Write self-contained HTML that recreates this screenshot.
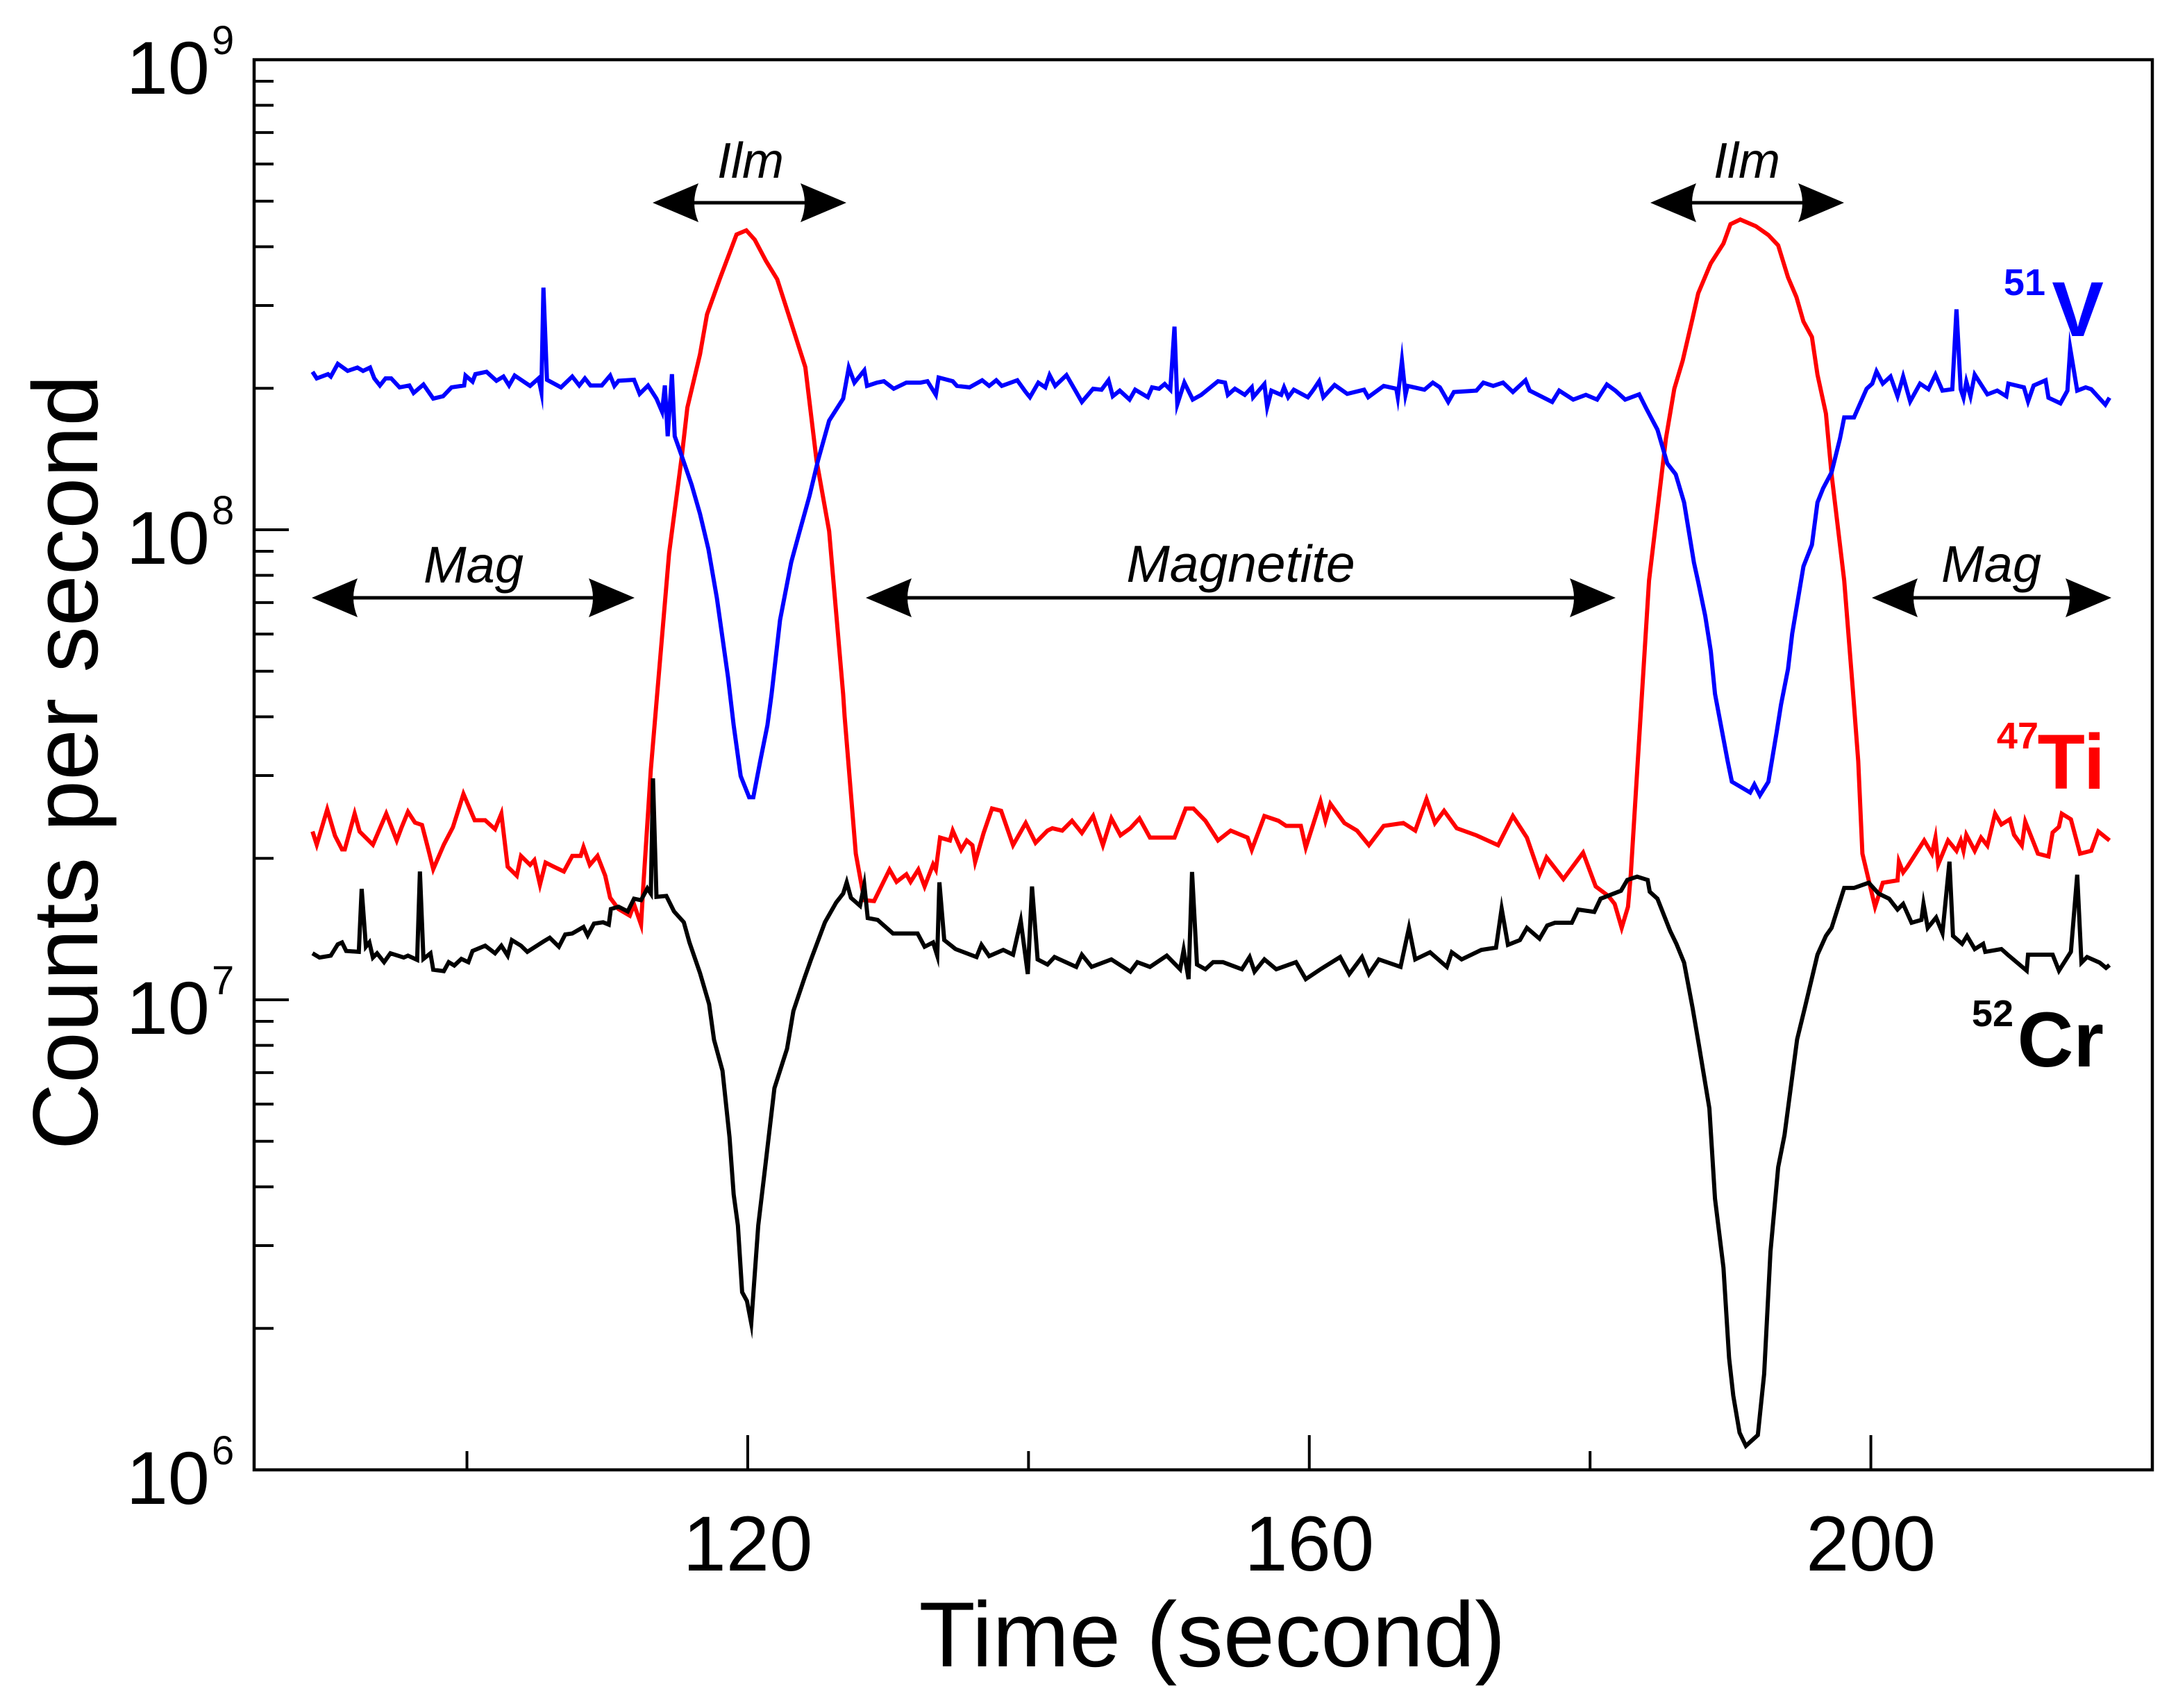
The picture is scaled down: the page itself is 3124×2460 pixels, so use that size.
<!DOCTYPE html>
<html lang="en">
<head>
<meta charset="utf-8">
<title>Counts per second versus time</title>
<style>
html,body{margin:0;padding:0;background:#fff;}
svg{display:block;}
text{font-family:"Liberation Sans",Arial,sans-serif;fill:#000;}
</style>
</head>
<body>
<svg id="chart" width="3124" height="2460" viewBox="0 0 3124 2460" xmlns="http://www.w3.org/2000/svg">
  <rect x="0" y="0" width="3124" height="2460" fill="#fff"/>
  <g id="series"></g>
  <g id="axes"></g>
  <rect x="366" y="86" width="2734" height="2031" fill="none" stroke="#000" stroke-width="4.5"/>

  <text x="1746" y="2400" font-size="133" text-anchor="middle">Time (second)</text>
  <text transform="translate(140 1098) rotate(-90)" font-size="133" text-anchor="middle">Counts per second</text>

  <g id="annotations"></g>

  <text x="2946" y="425" font-size="54" font-weight="700" text-anchor="end" style="fill:#0000ff">51</text>
  <text x="3030" y="484" font-size="112" font-weight="700" text-anchor="end" style="fill:#0000ff">V</text>
  <text x="2936" y="1078" font-size="54" font-weight="700" text-anchor="end" style="fill:#ff0000">47</text>
  <text x="3032" y="1136" font-size="112" font-weight="700" text-anchor="end" style="fill:#ff0000">Ti</text>
  <text x="2900" y="1478" font-size="54" font-weight="700" text-anchor="end">52</text>
  <text x="3030" y="1536" font-size="112" font-weight="700" text-anchor="end">Cr</text>
</svg>
<script>
// Values. Times are seconds, signals are log10(counts per second).
const xMajorTicks = [120, 160, 200];
const xMinorTicks = [100, 140, 180];
const yDecades = [9, 8, 7, 6];
const yMinorMultipliers = [2, 3, 4, 5, 6, 7, 8, 9];

const v51Times = [89.0,89.3,90.1,90.3,90.8,91.5,92.2,92.6,93.1,93.4,93.8,94.2,94.6,95.2,95.9,96.2,96.9,97.6,98.3,98.9,99.8,99.9,100.4,100.6,101.4,102.1,102.6,103.0,103.4,104.5,105.1,105.3,105.45,105.7,106.7,107.5,108.0,108.4,108.8,109.6,110.2,110.5,110.8,111.9,112.3,112.9,113.5,113.9,114.1,114.3,114.6,114.8,115.3,116.0,116.6,117.2,117.8,118.6,119.0,119.5,120.1,120.4,120.9,121.4,121.7,122.3,123.1,123.7,124.4,125.0,125.8,126.8,127.2,127.6,128.3,128.5,129.2,129.7,130.4,131.3,132.3,132.8,133.4,133.6,134.6,134.9,135.8,136.7,137.2,137.7,138.1,139.2,139.8,140.1,140.7,141.2,141.5,141.9,142.7,143.3,143.8,144.6,145.2,145.7,146.0,146.5,147.2,147.6,148.5,148.8,149.3,149.7,150.1,150.4,150.6,151.1,151.7,152.3,153.5,154.0,154.2,154.7,155.4,155.9,156.0,156.8,157.0,157.3,158.0,158.2,158.5,158.9,159.9,160.3,160.7,161.0,161.8,162.7,163.9,164.2,165.3,166.2,166.3,166.6,166.85,167.0,168.2,168.8,169.3,169.9,170.3,171.9,172.4,173.1,173.8,174.5,175.4,175.7,177.3,177.8,178.8,179.7,180.5,181.2,181.8,182.5,183.5,184.0,184.8,185.5,186.1,186.7,187.4,187.7,188.2,188.6,188.9,189.8,190.1,191.4,191.7,192.1,192.7,193.3,193.6,194.1,194.4,195.2,195.8,196.2,196.6,197.2,197.8,198.1,198.8,199.7,200.1,200.4,200.85,201.4,201.9,202.3,202.8,203.5,204.1,204.6,205.1,205.8,206.1,206.4,206.6,206.8,207.1,207.4,208.3,209.0,209.65,209.8,210.9,211.2,211.6,212.45,212.65,213.5,214.0,214.2,214.7,215.3,215.7,216.7,217.0];
const v51LogCounts = [8.336,8.322,8.331,8.326,8.353,8.338,8.345,8.338,8.345,8.322,8.307,8.322,8.322,8.303,8.307,8.291,8.309,8.279,8.284,8.303,8.307,8.328,8.315,8.331,8.336,8.317,8.326,8.307,8.328,8.306,8.322,8.293,8.515,8.319,8.303,8.326,8.307,8.322,8.307,8.307,8.328,8.306,8.317,8.319,8.289,8.307,8.279,8.251,8.307,8.199,8.331,8.199,8.157,8.096,8.034,7.959,7.855,7.686,7.584,7.476,7.431,7.431,7.509,7.584,7.650,7.808,7.931,7.997,8.072,8.147,8.232,8.279,8.345,8.313,8.339,8.306,8.313,8.316,8.300,8.313,8.313,8.316,8.287,8.324,8.316,8.306,8.303,8.318,8.306,8.318,8.306,8.318,8.293,8.282,8.313,8.303,8.329,8.306,8.329,8.298,8.272,8.300,8.298,8.318,8.284,8.296,8.277,8.298,8.282,8.303,8.300,8.310,8.298,8.432,8.267,8.313,8.277,8.287,8.316,8.313,8.287,8.300,8.287,8.303,8.282,8.310,8.261,8.296,8.287,8.303,8.282,8.298,8.282,8.298,8.316,8.282,8.308,8.289,8.298,8.282,8.306,8.300,8.282,8.360,8.287,8.306,8.298,8.313,8.303,8.272,8.293,8.296,8.313,8.306,8.313,8.293,8.318,8.296,8.272,8.296,8.277,8.287,8.277,8.309,8.296,8.277,8.288,8.258,8.213,8.141,8.118,8.058,7.930,7.889,7.817,7.741,7.651,7.508,7.464,7.441,7.458,7.435,7.464,7.571,7.628,7.704,7.779,7.922,7.968,8.058,8.088,8.122,8.194,8.239,8.239,8.300,8.311,8.337,8.311,8.326,8.284,8.326,8.273,8.311,8.299,8.330,8.296,8.299,8.469,8.299,8.281,8.315,8.284,8.330,8.288,8.296,8.284,8.311,8.303,8.273,8.307,8.318,8.281,8.269,8.296,8.386,8.296,8.303,8.299,8.266,8.281];

const ti47Times = [89.0,89.3,90.05,90.6,91.1,91.3,92.0,92.35,93.3,94.25,95.0,95.35,95.8,96.3,96.8,97.25,97.6,98.35,99.0,99.75,100.55,101.3,102.0,102.45,102.9,103.55,103.85,104.5,104.8,105.2,105.6,106.2,106.9,107.5,108.1,108.3,108.75,109.3,109.85,110.2,110.8,111.6,111.9,112.4,112.55,113.1,113.55,114.4,115.3,115.7,116.6,117.1,118.0,119.2,119.9,120.5,121.3,122.1,123.1,124.1,124.9,125.8,126.8,126.9,127.7,128.3,129.0,130.1,130.6,131.3,131.6,132.15,132.6,133.2,133.4,133.7,134.4,134.6,135.2,135.6,136.0,136.2,136.8,137.4,138.05,138.9,139.8,140.5,141.35,141.7,142.4,143.1,143.8,144.6,145.3,145.9,146.55,147.25,147.9,148.65,150.4,151.2,151.75,152.6,153.5,154.4,155.6,155.9,156.8,157.8,158.35,159.4,159.75,160.8,161.15,161.5,162.5,163.4,164.25,165.3,166.7,167.55,168.35,168.95,169.6,170.5,171.9,173.45,174.5,175.5,176.4,176.9,178.1,179.5,180.4,181.3,181.75,182.25,182.7,182.9,183.4,184.2,185.4,186.0,186.6,187.3,187.7,188.6,189.5,190.0,190.7,191.8,192.7,193.4,194.1,194.7,195.2,195.8,196.2,196.8,197.2,198.1,198.7,199.1,199.4,200.3,200.85,201.9,202.0,202.3,202.6,203.8,204.35,204.6,204.8,205.5,206.1,206.4,206.6,206.8,207.4,207.85,208.3,208.85,209.3,209.9,210.2,210.75,211.0,211.6,211.9,212.65,212.95,213.4,213.6,214.25,214.9,215.7,216.2,217.0];
const ti47LogCounts = [7.358,7.330,7.405,7.349,7.320,7.320,7.396,7.358,7.330,7.396,7.339,7.367,7.400,7.377,7.372,7.320,7.278,7.330,7.367,7.438,7.382,7.382,7.363,7.396,7.283,7.264,7.306,7.287,7.297,7.245,7.292,7.283,7.273,7.306,7.306,7.325,7.287,7.306,7.264,7.217,7.193,7.179,7.203,7.160,7.236,7.490,7.650,7.950,8.155,8.260,8.373,8.458,8.533,8.628,8.637,8.617,8.572,8.533,8.440,8.346,8.148,7.997,7.650,7.603,7.311,7.212,7.210,7.277,7.251,7.267,7.251,7.277,7.241,7.288,7.277,7.345,7.339,7.360,7.319,7.339,7.329,7.293,7.355,7.407,7.402,7.329,7.376,7.334,7.360,7.365,7.360,7.381,7.355,7.391,7.329,7.386,7.350,7.365,7.386,7.345,7.345,7.407,7.407,7.381,7.339,7.360,7.345,7.319,7.391,7.381,7.370,7.370,7.324,7.422,7.381,7.417,7.376,7.360,7.329,7.370,7.376,7.360,7.427,7.376,7.402,7.365,7.350,7.329,7.391,7.345,7.267,7.303,7.257,7.313,7.241,7.221,7.204,7.153,7.198,7.266,7.508,7.892,8.194,8.300,8.360,8.450,8.503,8.567,8.609,8.650,8.660,8.646,8.627,8.605,8.537,8.495,8.443,8.410,8.330,8.247,8.118,7.892,7.666,7.508,7.311,7.198,7.249,7.254,7.294,7.271,7.283,7.339,7.311,7.345,7.288,7.339,7.317,7.339,7.317,7.351,7.317,7.345,7.328,7.396,7.373,7.384,7.351,7.328,7.379,7.334,7.311,7.305,7.356,7.368,7.396,7.384,7.311,7.317,7.358,7.339];

const cr52Times = [89.0,89.5,90.3,90.8,91.1,91.4,92.3,92.5,92.8,93.05,93.3,93.6,94.1,94.55,95.5,95.8,96.45,96.65,96.9,97.4,97.6,98.35,98.7,99.1,99.6,100.1,100.4,101.3,102.0,102.45,102.9,103.2,103.85,104.3,105.45,105.9,106.55,107.0,107.5,108.3,108.6,109.05,109.7,110.1,110.25,110.8,111.45,111.9,112.4,112.85,113.1,113.25,113.5,114.2,114.75,115.45,115.85,116.6,117.25,117.6,118.2,118.7,119.0,119.3,119.6,119.95,120.25,120.75,121.2,121.9,122.8,123.25,124.05,124.5,125.5,126.3,126.8,127.05,127.35,128.0,128.3,128.55,129.25,130.35,132.1,132.6,133.2,133.5,133.65,134.0,134.8,136.3,136.65,137.2,138.2,138.9,139.45,139.95,140.25,140.65,141.35,141.85,143.4,143.8,144.5,145.9,147.25,147.75,148.65,149.85,150.8,151.05,151.4,151.65,152.0,152.6,153.15,153.85,155.2,155.75,156.1,156.8,157.65,159.05,159.75,160.8,162.2,162.85,163.75,164.25,164.95,166.5,167.1,167.55,168.6,169.8,170.15,170.85,172.25,173.3,173.7,174.15,175.0,175.5,176.4,176.95,177.5,178.7,179.15,180.3,180.75,182.2,182.65,183.35,184.1,184.25,184.8,185.7,186.15,186.7,187.3,187.75,188.5,188.9,189.5,189.9,190.2,190.65,191.1,191.95,192.4,192.85,193.4,193.85,194.75,195.3,196.2,196.8,197.2,198.1,198.8,199.85,200.55,201.3,201.9,202.3,202.9,203.6,203.75,204.05,204.65,205.1,205.6,205.85,206.5,206.85,207.4,208.0,208.15,209.3,209.75,211.1,211.2,212.2,212.95,213.4,214.25,214.7,215.0,215.4,216.3,216.75,217.0];
const cr52LogCounts = [7.099,7.090,7.094,7.118,7.122,7.104,7.102,7.236,7.113,7.122,7.090,7.099,7.080,7.099,7.090,7.094,7.085,7.273,7.087,7.099,7.064,7.061,7.080,7.073,7.087,7.080,7.104,7.115,7.099,7.115,7.094,7.127,7.115,7.102,7.124,7.132,7.113,7.139,7.141,7.155,7.137,7.162,7.165,7.160,7.193,7.198,7.188,7.215,7.212,7.237,7.226,7.471,7.219,7.221,7.188,7.165,7.122,7.057,6.991,6.915,6.849,6.708,6.586,6.520,6.378,6.359,6.312,6.520,6.633,6.812,6.896,6.976,7.047,7.085,7.165,7.207,7.226,7.250,7.217,7.200,7.245,7.174,7.170,7.141,7.141,7.113,7.122,7.094,7.250,7.127,7.108,7.091,7.117,7.093,7.106,7.096,7.168,7.055,7.241,7.086,7.075,7.091,7.070,7.096,7.070,7.086,7.060,7.080,7.070,7.094,7.065,7.106,7.044,7.272,7.075,7.065,7.080,7.080,7.065,7.091,7.060,7.086,7.065,7.080,7.044,7.065,7.091,7.055,7.091,7.055,7.086,7.070,7.153,7.086,7.101,7.070,7.101,7.086,7.106,7.111,7.194,7.117,7.127,7.153,7.130,7.158,7.164,7.164,7.192,7.187,7.215,7.232,7.255,7.262,7.255,7.230,7.215,7.147,7.119,7.079,6.983,6.904,6.769,6.577,6.430,6.238,6.158,6.079,6.051,6.074,6.204,6.464,6.644,6.712,6.916,6.983,7.096,7.136,7.153,7.238,7.238,7.249,7.226,7.215,7.192,7.204,7.164,7.170,7.204,7.153,7.175,7.142,7.294,7.136,7.119,7.136,7.108,7.119,7.102,7.108,7.096,7.062,7.096,7.096,7.096,7.062,7.102,7.266,7.079,7.091,7.079,7.068,7.074];

const annotationLabels = ["Mag", "Ilm", "Magnetite", "Ilm", "Mag"];

const SVG_NS = "http://www.w3.org/2000/svg";
const plotLeft = 366, plotRight = 3100, plotTop = 86, plotBottom = 2117;
const timeMin = 84.84, timeMax = 220.05;
const logMin = 6, logMax = 9;

function xScale(t) {
  return plotLeft + (t - timeMin) / (timeMax - timeMin) * (plotRight - plotLeft);
}
function yScale(logValue) {
  return plotBottom - (logValue - logMin) / (logMax - logMin) * (plotBottom - plotTop);
}
function make(tag, attrs, parent) {
  const el = document.createElementNS(SVG_NS, tag);
  for (const k in attrs) el.setAttribute(k, attrs[k]);
  parent.appendChild(el);
  return el;
}

const axes = document.getElementById("axes");
const seriesLayer = document.getElementById("series");
const annotations = document.getElementById("annotations");

// X ticks
xMajorTicks.forEach(function (v) {
  const x = xScale(v);
  const tick = make("line", {x1: x, x2: x, y1: plotBottom, y2: plotBottom - 50, stroke: "#000", "stroke-width": 4}, axes);
  
  
  const label = make("text", {x: x, y: 2262, "font-size": 112, "text-anchor": "middle"}, axes);
  
  
  label.textContent = String(v);
});
xMinorTicks.forEach(function (v) {
  const x = xScale(v);
  const tick = make("line", {x1: x, x2: x, y1: plotBottom, y2: plotBottom - 27, stroke: "#000", "stroke-width": 4}, axes);
  
  
});

// Y ticks
yDecades.forEach(function (d) {
  const y = yScale(d);
  const tick = make("line", {x1: plotLeft, x2: plotLeft + 50, y1: y, y2: y, stroke: "#000", "stroke-width": 4}, axes);
  
  
  const base = make("text", {x: 302, y: y + 49, "font-size": 108, "text-anchor": "end"}, axes);
  
  
  base.textContent = "10";
  const exp = make("text", {x: 305, y: y - 8, "font-size": 58}, axes);
  
  
  exp.textContent = String(d);
  if (d > logMin) {
    yMinorMultipliers.forEach(function (m) {
      const ym = yScale(d - 1 + Math.log10(m));
      const minor = make("line", {x1: plotLeft, x2: plotLeft + 28, y1: ym, y2: ym, stroke: "#000", "stroke-width": 4}, axes);
      
      
    });
  }
});

// Series lines
function drawSeries(times, values, color, width, name) {
  const pts = times.map(function (t, i) {
    return xScale(t).toFixed(1) + "," + yScale(values[i]).toFixed(1);
  }).join(" ");
  const line = make("polyline", {points: pts, fill: "none", stroke: color, "stroke-width": width, "stroke-linejoin": "miter", "stroke-miterlimit": 10}, seriesLayer);
  
  
}
drawSeries(ti47Times, ti47LogCounts, "#ff0000", 6, "ti47-line");
drawSeries(v51Times, v51LogCounts, "#0000ff", 6, "v51-line");
drawSeries(cr52Times, cr52LogCounts, "#000000", 6, "cr52-line");

// Double-headed annotation arrows
function drawArrow(x1, x2, y, labelText, labelX, labelY, fontSize, name) {
  const line = make("line", {x1: x1 + 50, x2: x2 - 50, y1: y, y2: y, stroke: "#000", "stroke-width": 5}, annotations);
  
  
  const headLeft = make("path", {d: "M" + x1 + " " + y + " L" + (x1 + 66) + " " + (y - 28) + " Q" + (x1 + 54) + " " + y + " " + (x1 + 66) + " " + (y + 28) + " Z", fill: "#000"}, annotations);
  
  
  const headRight = make("path", {d: "M" + x2 + " " + y + " L" + (x2 - 66) + " " + (y - 28) + " Q" + (x2 - 54) + " " + y + " " + (x2 - 66) + " " + (y + 28) + " Z", fill: "#000"}, annotations);
  
  
  const label = make("text", {x: labelX, y: labelY, "font-size": fontSize, "font-style": "italic", "text-anchor": "middle"}, annotations);
  
  
  label.textContent = labelText;
}
drawArrow(449, 914, 861, annotationLabels[0], 682, 839, 74, "mag-left");
drawArrow(940, 1219, 292, annotationLabels[1], 1081, 256, 72, "ilm-left");
drawArrow(1247, 2327, 861, annotationLabels[2], 1787, 838, 75, "magnetite");
drawArrow(2377, 2656, 292, annotationLabels[3], 2516, 256, 72, "ilm-right");
drawArrow(2696, 3041, 861, annotationLabels[4], 2868, 838, 74, "mag-right");
</script>
</body>
</html>
